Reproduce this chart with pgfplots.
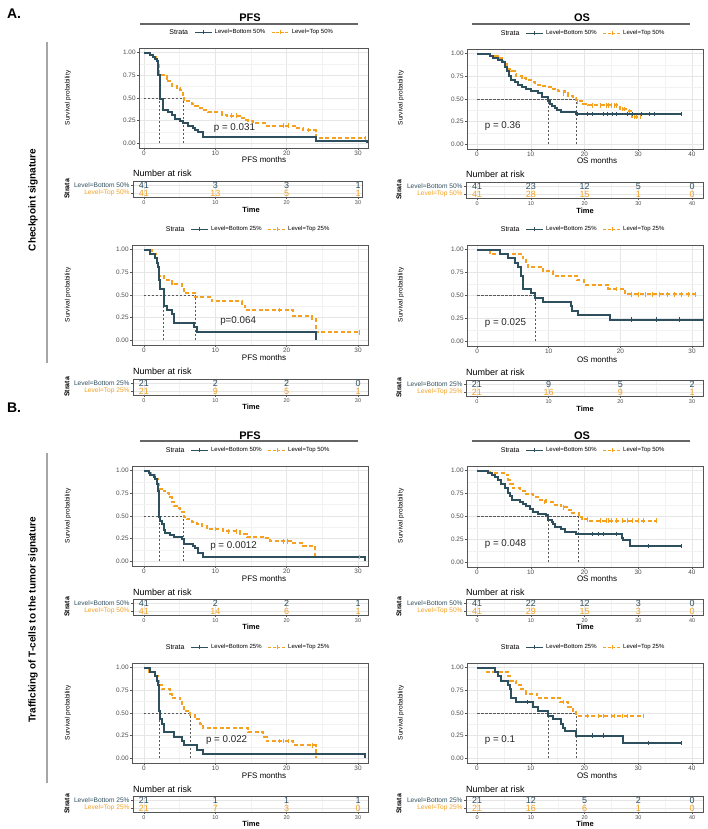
\documentclass[border=0pt]{standalone}
\usepackage{fontspec}
\setmainfont{Liberation Sans}
\usepackage{pgfplots}
\pgfplotsset{compat=1.18}
\definecolor{tealc}{HTML}{2E4F5E}
\definecolor{orangec}{HTML}{F5A11F}
\definecolor{framec}{HTML}{555555}
\definecolor{gridc}{HTML}{E6E6E6}
\definecolor{gridm}{HTML}{F2F2F2}
\definecolor{tickc}{HTML}{4D4D4D}
\newcommand\tk{\fontsize{6.4}{7}\selectfont}
\newcommand\legf{\fontsize{6}{7}\selectfont}
\pgfplotsset{
 base/.style={scale only axis,anchor=south west,
   /pgf/number format/assume math mode=true,
   grid=both,major grid style={draw=gridc,line width=0.5pt},
   minor grid style={draw=gridm,line width=0.35pt},
   axis line style={draw=framec,line width=0.9pt},
   tick pos=left,tick align=outside,major tick length=2.2pt,minor tick length=0pt,
   tick style={draw=framec,line width=0.5pt},
   ticklabel style={font=\tk,text=tickc,inner sep=1pt}},
 km/.style={base,ymin=-0.05,ymax=1.05,
   ytick={0,0.25,0.5,0.75,1},yticklabels={0.00,0.25,0.50,0.75,1.00},
   minor tick num=1,
   legend style={at={(0.49,1.155)},anchor=center,draw=none,fill=none,
     legend columns=-1,font=\legf,inner sep=0pt,
     /tikz/every even column/.append style={column sep=4pt}}},
 risk/.style={base,ymin=0.5,ymax=2.5,ytick={1,2},minor x tick num=1,height=16pt,
   xticklabel style={font=\fontsize{5.5}{6}\selectfont},
   yticklabel style={font=\fontsize{6.6}{7}\selectfont},
   clip=false},
 rl50/.style={yticklabels={{\color{orangec}Level=Top 50\%},{\color{tealc}Level=Bottom 50\%}}},
 rl25/.style={yticklabels={{\color{orangec}Level=Top 25\%},{\color{tealc}Level=Bottom 25\%}}},
 bot/.style={tealc,line width=2pt,const plot,forget plot},
 top/.style={orangec,line width=2pt,const plot,dash pattern=on 4pt off 2.5pt,forget plot},
 cbot/.style={tealc,only marks,mark=|,mark size=2.3pt,line width=0.8pt,forget plot},
 ctop/.style={orangec,only marks,mark=|,mark size=2.3pt,line width=0.8pt,forget plot},
 med/.style={black!65,dash pattern=on 2.5pt off 1.5pt,line width=0.6pt,forget plot},
 nb/.style={only marks,mark=none,forget plot,nodes near coords,point meta=explicit symbolic,
   every node near coord/.append style={anchor=center,inner sep=0pt,font=\fontsize{9}{9}\selectfont,text=tealc}},
 nt/.style={nb,every node near coord/.append style={text=orangec}},
}
\newcommand{\kmleg}[1]{%
 \addlegendimage{empty legend}\addlegendentry{\fontsize{7}{8}\selectfont Strata}
 \addlegendimage{tealc,line width=1.5pt,mark=|,mark size=2pt,mark options={solid,line width=0.8pt}}
 \addlegendentry{Level=Bottom #1\%}
 \addlegendimage{orangec,line width=1.5pt,dash pattern=on 3pt off 1.5pt,mark=|,mark size=2pt,mark options={solid,line width=0.8pt}}
 \addlegendentry{Level=Top #1\%}}
\newcommand{\pval}[3]{\node[anchor=west,font=\fontsize{9.8}{10}\selectfont,text=black!85] at (axis cs:#1,#2) {#3};}

\begin{document}
\begin{tikzpicture}
\path[use as bounding box,fill=white] (0,0) rectangle (708pt,829pt);

% ---------------- A: checkpoint signature, PFS ----------------
\begin{axis}[km,at={(139pt,681pt)},width=229pt,height=100pt,xmin=-0.7,xmax=31.4,xtick={0,10,20,30}]
\kmleg{50}
\addplot[med] coordinates {(0,0.5) (5.5,0.5)};
\addplot[med] coordinates {(2.2,0) (2.2,0.5)};
\addplot[med] coordinates {(5.5,0) (5.5,0.5)};
\addplot[top] coordinates {(0,1) (0.9,0.976) (1.35,0.951) (1.8,0.902) (2.05,0.756) (3.2,0.707) (3.4,0.683) (3.9,0.634) (4.6,0.61) (5.1,0.585) (5.4,0.537) (5.6,0.463) (6.7,0.439) (7.2,0.415) (7.6,0.39) (8.3,0.366) (9.0,0.341) (10.9,0.317) (11.6,0.305) (13.5,0.28) (14.2,0.256) (14.6,0.244) (15.3,0.22) (17.2,0.195) (21.1,0.171) (22.3,0.146) (24.1,0.061) (31.0,0.061)};
\addplot[ctop] coordinates {(12.3,0.305) (13.0,0.305) (19.5,0.195) (20.2,0.195) (23.0,0.146) (31.0,0.061)};
\addplot[bot] coordinates {(0,1) (0.9,0.976) (1.3,0.951) (1.6,0.927) (1.8,0.902) (1.95,0.756) (2.2,0.488) (2.7,0.366) (3.4,0.341) (3.9,0.317) (4.3,0.268) (5.1,0.244) (5.5,0.22) (6.2,0.195) (6.9,0.171) (7.2,0.146) (7.6,0.122) (8.3,0.073) (24.1,0.024) (31.3,0)};
\pval{9.3}{0.17}{p = 0.031}
\end{axis}
\begin{axis}[risk,rl50,at={(133pt,632pt)},width=229pt,xmin=-1.54,xmax=30.56,xtick={0,10,20,30}]
\addplot[nb] coordinates {(0,2)[41] (10,2)[3] (20,2)[3] (30,2)[1]};
\addplot[nt] coordinates {(0,1)[41] (10,1)[13] (20,1)[5] (30,1)[1]};
\end{axis}

% ---------------- A: OS ----------------
\begin{axis}[km,at={(467pt,680pt)},width=236pt,height=100pt,xmin=-1.86,xmax=42.05,xtick={0,10,20,30,40}]
\kmleg{50}
\addplot[med] coordinates {(0,0.5) (18.5,0.5)};
\addplot[med] coordinates {(13.25,0) (13.25,0.5)};
\addplot[med] coordinates {(18.5,0) (18.5,0.5)};
\addplot[top] coordinates {(0,1) (2.5,0.976) (3.9,0.951) (4.85,0.902) (5.5,0.854) (5.8,0.83) (6.4,0.805) (7.0,0.78) (7.3,0.756) (8.3,0.732) (9.2,0.707) (10.1,0.683) (10.8,0.659) (11.7,0.646) (12.9,0.634) (14.2,0.61) (15.1,0.585) (16.4,0.561) (17.0,0.537) (17.9,0.512) (18.5,0.475) (19.8,0.45) (20.7,0.43) (26.6,0.39) (28.2,0.37) (28.8,0.3) (30.4,0.3)};
\addplot[ctop] coordinates {(16.0,0.561) (18.6,0.475) (21.5,0.43) (23,0.43) (24,0.43) (24.5,0.43) (25,0.43) (25.5,0.43) (26,0.43) (27,0.39) (27.5,0.39) (28.4,0.37) (29.2,0.3) (29.7,0.3) (30.4,0.3)};
\addplot[bot] coordinates {(0,1) (2.4,0.976) (3.0,0.951) (3.9,0.927) (4.7,0.902) (5.2,0.854) (5.5,0.805) (6.0,0.756) (6.4,0.707) (7.0,0.683) (7.65,0.659) (8.3,0.634) (9.1,0.61) (10.1,0.585) (11.4,0.561) (12.0,0.524) (13.25,0.48) (13.6,0.45) (13.9,0.425) (14.5,0.4) (14.8,0.38) (15.7,0.36) (18.5,0.335) (38,0.335)};
\addplot[cbot] coordinates {(18.7,0.335) (20.5,0.335) (21.5,0.335) (23.5,0.335) (24.3,0.335) (25.2,0.335) (26,0.335) (28,0.335) (29,0.335) (30.5,0.335) (32,0.335) (33,0.335) (38,0.335)};
\pval{0.8}{0.2}{p = 0.36}
\end{axis}
\begin{axis}[risk,rl50,at={(466pt,631pt)},width=237pt,xmin=-2.05,xmax=42.0,xtick={0,10,20,30,40}]
\addplot[nb] coordinates {(0,2)[41] (10,2)[23] (20,2)[12] (30,2)[5] (40,2)[0]};
\addplot[nt] coordinates {(0,1)[41] (10,1)[28] (20,1)[15] (30,1)[1] (40,1)[0]};
\end{axis}

% ---------------- A: PFS 25% ----------------
\begin{axis}[km,at={(132pt,484pt)},width=236pt,height=100pt,xmin=-1.68,xmax=31.4,xtick={0,10,20,30}]
\kmleg{25}
\addplot[med] coordinates {(0,0.5) (7.2,0.5)};
\addplot[med] coordinates {(2.75,0) (2.75,0.5)};
\addplot[med] coordinates {(7.2,0) (7.2,0.5)};
\addplot[top] coordinates {(0,1) (1.1,0.952) (1.7,0.905) (1.8,0.857) (1.9,0.81) (2.15,0.714) (2.75,0.69) (3.2,0.667) (3.9,0.619) (5.3,0.571) (5.55,0.524) (7.2,0.476) (9.5,0.429) (13.7,0.381) (14.2,0.333) (20.9,0.267) (23.6,0.24) (24.1,0.09) (30.2,0.09)};
\addplot[ctop] coordinates {(19.0,0.333) (30.2,0.09)};
\addplot[bot] coordinates {(0,1) (0.9,0.952) (1.6,0.905) (1.8,0.857) (1.9,0.81) (2.05,0.667) (2.3,0.571) (2.75,0.381) (3.2,0.333) (3.9,0.286) (4.25,0.19) (7.0,0.143) (7.4,0.095) (24.1,0)};
\pval{10.2}{0.21}{p=0.064}
\end{axis}
\begin{axis}[risk,rl25,at={(133pt,434pt)},width=235pt,xmin=-1.54,xmax=31.4,xtick={0,10,20,30}]
\addplot[nb] coordinates {(0,2)[21] (10,2)[2] (20,2)[2] (30,2)[0]};
\addplot[nt] coordinates {(0,1)[21] (10,1)[9] (20,1)[5] (30,1)[1]};
\end{axis}

% ---------------- A: OS 25% ----------------
\begin{axis}[km,at={(467pt,483pt)},width=236pt,height=101pt,xmin=-1.4,xmax=31.53,xtick={0,10,20,30}]
\kmleg{25}
\addplot[med] coordinates {(0,0.5) (8.1,0.5)};
\addplot[med] coordinates {(8.1,0) (8.1,0.5)};
\addplot[top] coordinates {(0,1) (1.8,0.952) (6.4,0.905) (6.9,0.857) (7.1,0.81) (9.2,0.762) (10.6,0.714) (13.9,0.667) (14.9,0.619) (18.3,0.571) (20.7,0.514) (30.7,0.514)};
\addplot[ctop] coordinates {(19.5,0.571) (21.5,0.514) (22.5,0.514) (23.5,0.514) (24.5,0.514) (25.5,0.514) (26.5,0.514) (27.5,0.514) (28.5,0.514) (29.5,0.514) (30.5,0.514)};
\addplot[bot] coordinates {(0,1) (3.2,0.952) (4.3,0.905) (5.3,0.857) (5.7,0.81) (6.1,0.714) (6.35,0.619) (6.45,0.571) (7.5,0.524) (8.1,0.476) (9.2,0.429) (13.1,0.381) (13.3,0.333) (14.1,0.286) (18.5,0.238) (38,0.238)};
\addplot[cbot] coordinates {(21.5,0.238) (25,0.238) (28.2,0.238)};
\pval{0.6}{0.2}{p = 0.025}
\end{axis}
\begin{axis}[risk,rl25,at={(466pt,433pt)},width=237pt,xmin=-1.53,xmax=31.53,xtick={0,10,20,30}]
\addplot[nb] coordinates {(0,2)[21] (10,2)[9] (20,2)[5] (30,2)[2]};
\addplot[nt] coordinates {(0,1)[21] (10,1)[16] (20,1)[9] (30,1)[1]};
\end{axis}

% ---------------- B: trafficking signature, PFS ----------------
\begin{axis}[km,at={(132pt,263pt)},width=236pt,height=100pt,xmin=-1.68,xmax=31.4,xtick={0,10,20,30}]
\kmleg{50}
\addplot[med] coordinates {(0,0.5) (5.55,0.5)};
\addplot[med] coordinates {(2.2,0) (2.2,0.5)};
\addplot[med] coordinates {(5.55,0) (5.55,0.5)};
\addplot[top] coordinates {(0,1) (0.7,0.976) (1.35,0.951) (1.6,0.902) (1.9,0.854) (2.05,0.8) (2.5,0.78) (3.0,0.756) (3.45,0.707) (3.9,0.659) (4.2,0.61) (4.6,0.585) (5.1,0.549) (5.55,0.488) (6.0,0.463) (6.7,0.439) (7.4,0.415) (8.1,0.39) (8.8,0.356) (11.1,0.33) (13.5,0.305) (14.4,0.27) (16.7,0.254) (17.7,0.22) (20.9,0.2) (22.3,0.17) (24.0,0.047) (30.2,0.047)};
\addplot[ctop] coordinates {(10.0,0.356) (11.8,0.33) (13.0,0.33) (19.5,0.22) (20.1,0.22) (30.2,0.047)};
\addplot[bot] coordinates {(0,1) (0.7,0.976) (0.9,0.951) (1.35,0.927) (1.6,0.902) (1.8,0.854) (1.9,0.78) (2.15,0.488) (2.3,0.44) (2.5,0.415) (2.75,0.341) (3.0,0.317) (3.7,0.293) (4.15,0.268) (5.3,0.244) (5.55,0.195) (6.9,0.171) (7.2,0.146) (7.6,0.098) (8.3,0.049) (31.0,0)};
\pval{8.8}{0.17}{p = 0.0012}
\end{axis}
\begin{axis}[risk,rl50,at={(133pt,214pt)},width=235pt,xmin=-1.54,xmax=31.4,xtick={0,10,20,30}]
\addplot[nb] coordinates {(0,2)[41] (10,2)[2] (20,2)[2] (30,2)[1]};
\addplot[nt] coordinates {(0,1)[41] (10,1)[14] (20,1)[6] (30,1)[1]};
\end{axis}

% ---------------- B: OS ----------------
\begin{axis}[km,at={(467pt,262pt)},width=236pt,height=101pt,xmin=-1.86,xmax=42.05,xtick={0,10,20,30,40}]
\kmleg{50}
\addplot[med] coordinates {(0,0.5) (18.9,0.5)};
\addplot[med] coordinates {(13.25,0) (13.25,0.5)};
\addplot[med] coordinates {(18.9,0) (18.9,0.5)};
\addplot[top] coordinates {(0,1) (2.4,0.976) (5.5,0.951) (5.8,0.902) (6.2,0.854) (6.7,0.805) (8.0,0.78) (9.2,0.74) (10.5,0.71) (11.7,0.68) (12.9,0.66) (14.2,0.63) (15.7,0.6) (16.7,0.57) (17.6,0.54) (18.9,0.49) (19.5,0.47) (21.0,0.455) (33.5,0.455)};
\addplot[ctop] coordinates {(12.5,0.66) (16.0,0.6) (20.5,0.47) (23,0.455) (24,0.455) (24.5,0.455) (25,0.455) (26,0.455) (27,0.455) (28,0.455) (29,0.455) (30,0.455) (31,0.455) (33.3,0.455)};
\addplot[bot] coordinates {(0,1) (2.05,0.976) (2.7,0.951) (3.3,0.927) (3.9,0.902) (4.5,0.854) (5.2,0.805) (5.8,0.756) (6.1,0.72) (6.6,0.683) (8.0,0.659) (8.6,0.634) (9.2,0.61) (9.8,0.585) (10.5,0.549) (11.4,0.524) (12.9,0.512) (13.25,0.463) (13.9,0.439) (14.2,0.415) (14.5,0.39) (15.7,0.36) (16.4,0.335) (18.5,0.31) (26.9,0.27) (27.2,0.24) (28.5,0.18) (38.1,0.18)};
\addplot[cbot] coordinates {(21.5,0.31) (22.5,0.31) (23.5,0.31) (26,0.31) (31.8,0.18) (38,0.18)};
\pval{0.8}{0.2}{p = 0.048}
\end{axis}
\begin{axis}[risk,rl50,at={(466pt,214pt)},width=237pt,xmin=-2.05,xmax=42.0,xtick={0,10,20,30,40}]
\addplot[nb] coordinates {(0,2)[41] (10,2)[22] (20,2)[12] (30,2)[3] (40,2)[0]};
\addplot[nt] coordinates {(0,1)[41] (10,1)[29] (20,1)[15] (30,1)[3] (40,1)[0]};
\end{axis}

% ---------------- B: PFS 25% ----------------
\begin{axis}[km,at={(132pt,66pt)},width=236pt,height=100pt,xmin=-1.68,xmax=31.4,xtick={0,10,20,30}]
\kmleg{25}
\addplot[med] coordinates {(0,0.5) (6.5,0.5)};
\addplot[med] coordinates {(2.2,0) (2.2,0.5)};
\addplot[med] coordinates {(6.5,0) (6.5,0.5)};
\addplot[top] coordinates {(0,1) (0.7,0.952) (1.6,0.905) (1.9,0.857) (2.05,0.81) (2.5,0.762) (3.7,0.714) (3.9,0.667) (5.1,0.619) (5.3,0.571) (5.55,0.524) (6.5,0.476) (7.2,0.429) (7.9,0.381) (8.3,0.333) (14.6,0.286) (16.7,0.238) (17.2,0.19) (20.9,0.143) (24.1,0)};
\addplot[ctop] coordinates {(19.0,0.19) (19.5,0.19) (20.2,0.19) (23.6,0.143)};
\addplot[bot] coordinates {(0,1) (0.9,0.952) (1.6,0.905) (1.8,0.857) (1.9,0.81) (2.05,0.571) (2.15,0.524) (2.3,0.429) (2.5,0.381) (2.75,0.286) (4.15,0.238) (5.3,0.19) (5.55,0.143) (7.4,0.095) (8.3,0.048) (31.0,0)};
\pval{8.2}{0.2}{p = 0.022}
\end{axis}
\begin{axis}[risk,rl25,at={(133pt,17pt)},width=235pt,xmin=-1.54,xmax=31.4,xtick={0,10,20,30}]
\addplot[nb] coordinates {(0,2)[21] (10,2)[1] (20,2)[1] (30,2)[1]};
\addplot[nt] coordinates {(0,1)[21] (10,1)[7] (20,1)[3] (30,1)[0]};
\end{axis}

% ---------------- B: OS 25% ----------------
\begin{axis}[km,at={(467pt,66pt)},width=236pt,height=100pt,xmin=-1.86,xmax=42.05,xtick={0,10,20,30,40}]
\kmleg{25}
\addplot[med] coordinates {(0,0.5) (18.5,0.5)};
\addplot[med] coordinates {(13.3,0) (13.3,0.5)};
\addplot[med] coordinates {(18.5,0) (18.5,0.5)};
\addplot[top] coordinates {(0,1) (1.6,0.952) (5.8,0.905) (6.2,0.857) (7.3,0.81) (8.2,0.762) (9.2,0.714) (11.1,0.667) (15.4,0.619) (17.0,0.571) (17.9,0.524) (18.5,0.467) (31.0,0.467)};
\addplot[ctop] coordinates {(16.0,0.619) (20.5,0.467) (22.5,0.467) (23.5,0.467) (25,0.467) (25.5,0.467) (27,0.467) (28,0.467) (31.0,0.467)};
\addplot[bot] coordinates {(0,1) (3.3,0.952) (3.9,0.905) (4.5,0.857) (5.8,0.81) (6.1,0.762) (6.3,0.714) (6.4,0.667) (7.3,0.619) (10.5,0.571) (11.4,0.524) (13.25,0.464) (14.2,0.43) (15.7,0.38) (16.0,0.33) (16.4,0.3) (18.5,0.25) (27.1,0.17) (38.1,0.17)};
\addplot[cbot] coordinates {(9.3,0.619) (21.5,0.25) (23.5,0.25) (31.8,0.17) (38,0.17)};
\pval{0.8}{0.2}{p = 0.1}
\end{axis}
\begin{axis}[risk,rl25,at={(466pt,17pt)},width=237pt,xmin=-2.05,xmax=42.0,xtick={0,10,20,30,40}]
\addplot[nb] coordinates {(0,2)[21] (10,2)[12] (20,2)[5] (30,2)[2] (40,2)[0]};
\addplot[nt] coordinates {(0,1)[21] (10,1)[16] (20,1)[6] (30,1)[1] (40,1)[0]};
\end{axis}

% ---------------- labels (image coordinates, y downwards) ----------------
\begin{scope}[x=1pt,y=-1pt,yshift=829pt]
\node[font=\fontsize{14}{15}\bfseries] at (14,14) {A.};
\node[font=\fontsize{14}{15}\bfseries] at (14,408) {B.};
\draw[gray!70,line width=1.5pt] (47,42) -- (47,363);
\draw[gray!70,line width=1.5pt] (47,453) -- (47,783);
\node[rotate=90,font=\fontsize{10}{11}\bfseries] at (33,200) {Checkpoint signature};
\node[rotate=90,font=\fontsize{10}{11}\bfseries] at (33,620) {Trafficking of T-cells to the tumor signature};
\node[font=\fontsize{11}{12}\bfseries] at (250,18) {PFS};
\node[font=\fontsize{11}{12}\bfseries] at (582,18) {OS};
\node[font=\fontsize{11}{12}\bfseries] at (250,436) {PFS};
\node[font=\fontsize{11}{12}\bfseries] at (582,436) {OS};
\draw[gray!80!black,line width=1.2pt] (140,24) -- (358,24);
\draw[gray!80!black,line width=1.2pt] (472,24) -- (690,24);
\draw[gray!80!black,line width=1.2pt] (140,441) -- (358,441);
\draw[gray!80!black,line width=1.2pt] (472,441) -- (690,441);
\foreach \yc in {98,295,516,713}{
 \node[rotate=90,font=\fontsize{6.5}{7}\selectfont] at (68,\yc) {Survival probability};
 \node[rotate=90,font=\fontsize{6.5}{7}\selectfont] at (401,\yc) {Survival probability};}
\foreach \yc/\yo in {160/161,358/360,579/579,776/776}{
 \node[font=\fontsize{8}{9}\selectfont] at (264,\yc) {PFS months};
 \node[font=\fontsize{8}{9}\selectfont] at (597,\yo) {OS months};}
\foreach \yc/\yo in {173/174,371/372,592/592,789/789}{
 \node[anchor=west,inner sep=0pt,font=\fontsize{9}{10}\selectfont] at (133,\yc) {Number at risk};
 \node[anchor=west,inner sep=0pt,font=\fontsize{9}{10}\selectfont] at (466,\yo) {Number at risk};}
\foreach \yc/\yo in {210/211,407/409,627/627,824/824}{
 \node[font=\fontsize{7.5}{8}\bfseries] at (251,\yc) {Time};
 \node[font=\fontsize{7.5}{8}\bfseries] at (585,\yo) {Time};}
\foreach \yc/\yo in {189/190,387/388,607/607,804/804}{
 \node[rotate=90,font=\fontsize{7}{8}\bfseries] at (67,\yc) {Strata};
 \node[rotate=90,font=\fontsize{7}{8}\bfseries] at (399,\yo) {Strata};}
\end{scope}
\end{tikzpicture}
\end{document}
